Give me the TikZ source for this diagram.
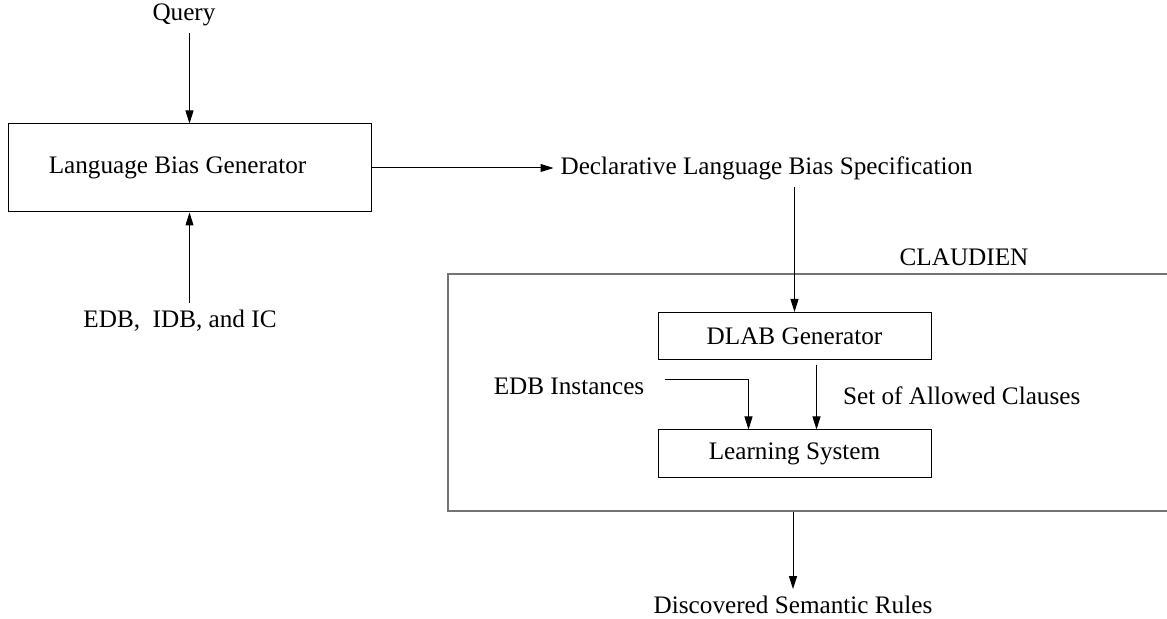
\documentclass[tikz,border=0pt]{standalone}
\usepackage{fontspec}
\setmainfont{Liberation Serif}
\usetikzlibrary{arrows.meta, positioning}

\tikzset{
    process/.style={
        rectangle, minimum width=136.5pt, minimum height=23.5pt, text centered, draw=black, line width=0.5pt
    },
    textnode/.style={
        inner sep=3.33pt, text centered
    },
    arrow/.style={
        line width=0.5pt, -{Triangle[length=6.5pt, width=4pt]}
    }
}

\begin{document}
\begin{tikzpicture}[x=0.5pt, y=-0.5pt, font=\fontsize{12.6}{15}\selectfont]

    \clip (0,0) rectangle (1167,619);

    % Bias generator with its inputs
    \node[textnode] (query) at (184,15) {Query};
    \node[process, minimum width=181.5pt, minimum height=44pt] (lbg) at (189.5,168) {\hspace{-12pt}Language Bias Generator};
    \node[textnode] (edb) at (180,321) {EDB,\ \ IDB, and IC};

    \draw[arrow] (query.south -| lbg) -- (lbg);
    \draw[arrow] (edb.north -| lbg) -- (lbg);

    % Output of the generator
    \node[textnode, right=91pt of lbg] (dls) {Declarative Language Bias Specification};
    \draw[arrow] (lbg) -- (dls);

    % CLAUDIEN system
    \node[draw=black!55, line width=1pt, minimum width=371pt, minimum height=118.5pt] (claudien) at (819,392.5) {};
    \node[textnode] (sysname) at (964,257) {CLAUDIEN};

    \node[process] (dlab) at (794.5,336) {DLAB Generator};
    \node[process, minimum height=24pt] (learn) at (794.5,454) {Learning System};
    \node[textnode] (inst) at (569,386) {EDB Instances};
    \node[textnode, anchor=west] (allowed) at (836,396) {Set of Allowed Clauses};

    \draw[arrow] (dls.south -| dlab) -- (dlab);
    \draw[arrow] ([xshift=11pt, yshift=-2.5pt]dlab.south) -- ([xshift=11pt]learn.north);
    \draw[arrow] ([xshift=7pt, yshift=3pt]inst.east) -| ([xshift=-23pt]learn.north);

    % Result
    \node[textnode] (rules) at (793,605) {Discovered Semantic Rules};
    \draw[arrow] (claudien.south -| rules) -- (rules);

\end{tikzpicture}
\end{document}
